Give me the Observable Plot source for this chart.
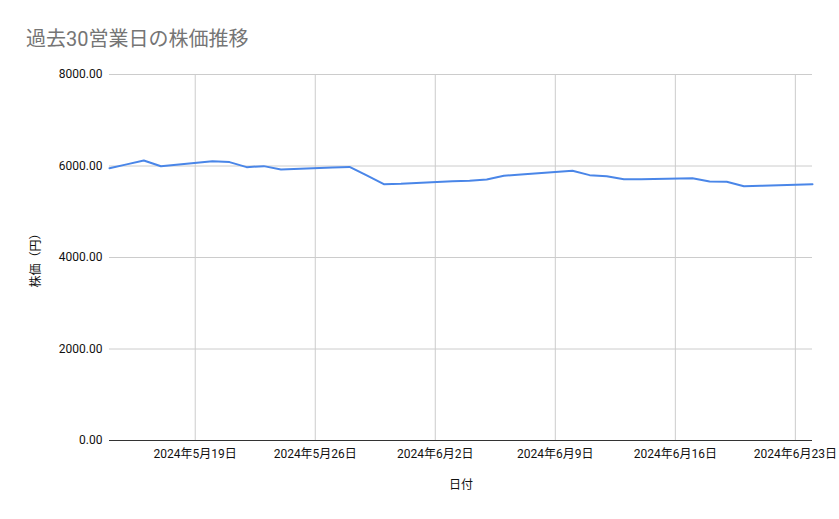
<!DOCTYPE html>
<html>
<head>
<meta charset="utf-8">
<script src="https://cdn.jsdelivr.net/npm/d3@7"></script>
<script src="https://cdn.jsdelivr.net/npm/@observablehq/plot@0.6"></script>
<style>
  body { margin: 0; background: #fff; font-family: Roboto, "Noto Sans CJK JP", sans-serif; }
  #title { height: 60px; box-sizing: border-box; padding: 27px 0 0 26px; font-size: 20px; color: #757575; line-height: 24px; }
</style>
</head>
<body>
<div id="title">過去30営業日の株価推移</div>
<div id="chart"></div>
<script>
const dates = [
  "2024-05-14","2024-05-15","2024-05-16","2024-05-17",
  "2024-05-20","2024-05-21","2024-05-22","2024-05-23","2024-05-24",
  "2024-05-27","2024-05-28","2024-05-29","2024-05-30","2024-05-31",
  "2024-06-03","2024-06-04","2024-06-05","2024-06-06","2024-06-07",
  "2024-06-10","2024-06-11","2024-06-12","2024-06-13","2024-06-14",
  "2024-06-17","2024-06-18","2024-06-19","2024-06-20","2024-06-21",
  "2024-06-24"
];
const prices = [
  5950, 6035, 6120, 5996,
  6105, 6085, 5975, 5997, 5925,
  5965, 5980, 5795, 5603, 5610,
  5668, 5676, 5705, 5785, 5814,
  5895, 5800, 5778, 5712, 5712,
  5734, 5661, 5654, 5559, 5566,
  5603
];
const xTicks = ["2024-05-19","2024-05-26","2024-06-02","2024-06-09","2024-06-16","2024-06-23"];
const yTicks = [0, 2000, 4000, 6000, 8000];
const xDomain = ["2024-05-14", "2024-06-24"];

const data = dates.map((d, i) => ({date: new Date(d + "T00:00:00Z"), price: prices[i]}));
const tickDates = xTicks.map(d => new Date(d + "T00:00:00Z"));
const fmtDate = d => `${d.getUTCFullYear()}年${d.getUTCMonth() + 1}月${d.getUTCDate()}日`;

const chart = Plot.plot({
  width: 839,
  height: 459,
  marginTop: 14,
  marginBottom: 79,
  marginLeft: 109,
  marginRight: 27,
  style: {fontFamily: 'Roboto, "Noto Sans CJK JP", sans-serif', fontSize: "12px", color: "#222"},
  x: {type: "utc", domain: xDomain.map(d => new Date(d + "T00:00:00Z"))},
  y: {domain: [0, 8000]},
  marks: [
    Plot.gridX(tickDates, {stroke: "#cccccc", strokeOpacity: 1}),
    Plot.gridY(yTicks.filter(v => v > 0), {stroke: "#cccccc", strokeOpacity: 1}),
    Plot.axisX(tickDates, {tickSize: 0, tickPadding: 9, tickFormat: fmtDate, label: "日付", labelAnchor: "center", labelArrow: "none", labelOffset: 48, fill: "#111", fontSize: 12}),
    Plot.axisY(yTicks, {tickSize: 0, tickPadding: 7, tickFormat: d3.format(".2f"), label: "株価（円）", labelAnchor: "center", labelArrow: "none", labelOffset: 78, fill: "#111", fontSize: 12}),
    Plot.ruleY([0], {stroke: "#333333", strokeWidth: 1}),
    Plot.line(data, {x: "date", y: "price", stroke: "#4a86e8", strokeWidth: 2})
  ]
});
document.getElementById("chart").appendChild(chart);
</script>
</body>
</html>
